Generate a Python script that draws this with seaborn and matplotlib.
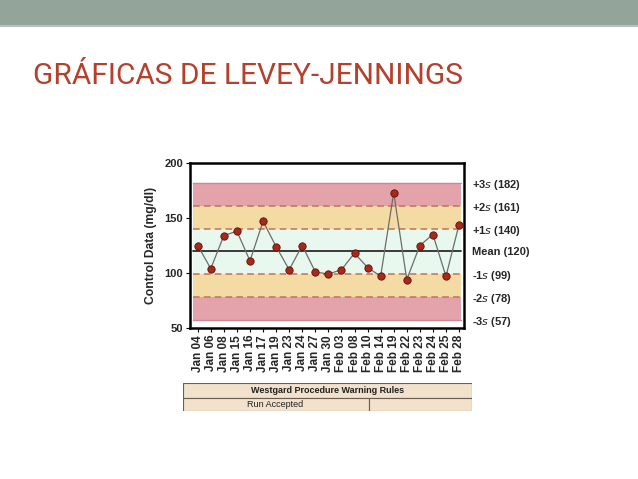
import pandas as pd
import seaborn as sns
import matplotlib.pyplot as plt
from matplotlib.patches import Rectangle

dates = ['Jan 04', 'Jan 06', 'Jan 08', 'Jan 15', 'Jan 16', 'Jan 17', 'Jan 19',
         'Jan 23', 'Jan 24', 'Jan 27', 'Jan 30', 'Feb 03', 'Feb 08', 'Feb 10',
         'Feb 14', 'Feb 19', 'Feb 22', 'Feb 23', 'Feb 24', 'Feb 25', 'Feb 28']
values = [125, 104, 134, 138, 111, 147, 124, 103, 125, 101, 99, 103, 118,
          105, 97, 173, 94, 125, 135, 97, 144]
mean_value = 120
sd_levels = [57, 78, 99, 140, 161, 182]
sd_names = ['-3', '-2', '-1', '+1', '+2', '+3']

df = pd.DataFrame({'pos': range(len(dates)), 'date': dates, 'value': values})

sns.set_style('white')
plt.rcParams['font.family'] = ['Liberation Sans', 'DejaVu Sans']

fig = plt.figure(figsize=(6.38, 4.79), dpi=100)

# slide header band
fig.add_artist(Rectangle((0, 1 - 25 / 479), 1, 25 / 479, transform=fig.transFigure,
                         facecolor='#93a49a', edgecolor='none'))
fig.add_artist(Rectangle((0, 1 - 27 / 479), 1, 2 / 479, transform=fig.transFigure,
                         facecolor='#b8c2bc', edgecolor='none'))
fig.text(33 / 638, 1 - 84 / 479, 'GRÁFICAS DE LEVEY-JENNINGS', color='#b5412d',
         fontsize=21.5, ha='left', va='baseline', family=['Roboto', 'Liberation Sans'])

ax = fig.add_axes([190 / 638, 1 - 328 / 479, 274 / 638, 165 / 479])

# control zones
ax.axhspan(sd_levels[0], sd_levels[5], xmin=0.01, xmax=0.99, color='#e4a3aa', lw=0)
ax.axhspan(sd_levels[1], sd_levels[4], xmin=0.01, xmax=0.99, color='#f4dba4', lw=0)
ax.axhspan(sd_levels[2], sd_levels[3], xmin=0.01, xmax=0.99, color='#e8f8ee', lw=0)
for lv in [sd_levels[0], sd_levels[5]]:
    ax.axhline(lv, xmin=0.01, xmax=0.99, color='#d08890', lw=1)
for lv in sd_levels[1:5]:
    ax.axhline(lv, xmin=0.01, xmax=0.99, color='#c27a62', lw=1.2, ls=(0, (4, 2.5)))
ax.axhline(mean_value, xmin=0.01, xmax=0.99, color='#2b2b2b', lw=1.3)

sns.lineplot(data=df, x='pos', y='value', ax=ax, color='#6c6c6c', lw=0.9)
sns.scatterplot(data=df, x='pos', y='value', ax=ax, color='#a8281a',
                edgecolor='#5a1008', s=28, linewidth=0.6, zorder=5)

ax.set_xlim(-0.59, 20.38)
ax.set_ylim(50, 200)
ax.set_yticks([50, 100, 150, 200])
ax.set_yticklabels(['50', '100', '150', '200'], fontweight='bold', fontsize=8)
ax.set_xticks(df['pos'])
ax.set_xticklabels(dates, rotation=90, fontweight='bold', fontsize=8.5)
ax.tick_params(axis='both', direction='out', length=3, width=0.8, color='black',
               bottom=True, left=True, pad=2)
ax.set_xlabel('')
ax.set_ylabel('Control Data (mg/dl)', fontweight='bold', fontsize=8.7, labelpad=5)
for sp in ax.spines.values():
    sp.set_color('black')
    sp.set_linewidth(1.8)

# right-hand zone labels
ax2 = ax.twinx()
ax2.set_ylim(50, 200)
right_ticks = sd_levels[5:2:-1] + [mean_value] + sd_levels[2::-1]
right_labels = ([r'%s$\it{s}$ (%d)' % (n, v) for n, v in zip(sd_names[5:2:-1], sd_levels[5:2:-1])]
                + ['Mean (%d)' % mean_value]
                + [r'%s$\it{s}$ (%d)' % (n, v) for n, v in zip(sd_names[2::-1], sd_levels[2::-1])])
ax2.set_yticks(right_ticks)
ax2.set_yticklabels(right_labels, fontweight='bold', fontsize=8)
ax2.tick_params(axis='y', length=0, pad=6)
for sp in ax2.spines.values():
    sp.set_visible(False)
ax2.grid(False)

# Westgard rules table
tab = fig.add_axes([183 / 638, 1 - 411 / 479, 289 / 638, 28 / 479])
tab.set_xlim(0, 1)
tab.set_ylim(0, 1)
tab.axis('off')
fill = '#f2e2cc'
edge = '#6a5e52'
tab.add_patch(Rectangle((0, 0.45), 1, 0.55, facecolor=fill, edgecolor=edge, lw=0.8))
tab.add_patch(Rectangle((0, 0), 0.642, 0.45, facecolor=fill, edgecolor=edge, lw=0.8))
tab.add_patch(Rectangle((0.642, 0), 0.358, 0.45, facecolor=fill, edgecolor=edge, lw=0.8))
tab.text(0.5, 0.72, 'Westgard Procedure Warning Rules', ha='center', va='center',
         fontsize=6.5, fontweight='bold', color='#222222')
tab.text(0.32, 0.22, 'Run Accepted', ha='center', va='center', fontsize=6.5,
         color='#222222')

fig.savefig('out.png', dpi=100, facecolor='white')
